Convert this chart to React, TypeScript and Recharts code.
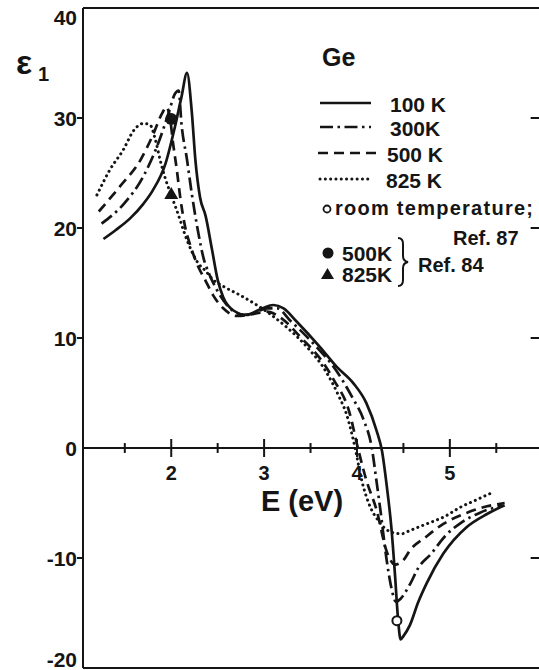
import React from "react";
import { ComposedChart, Line, Scatter, XAxis, YAxis, ReferenceLine } from "recharts";

const FONT = '"Liberation Sans", Arial, sans-serif';
const INK = "#151515";

// epsilon_1 of Ge versus photon energy, [E (eV), eps1]
const k100: [number, number][] = [
  [1.27, 19.0], [1.4, 19.8], [1.56, 20.9], [1.7, 22.2], [1.8, 23.4], [1.94, 25.9], [2.04, 29.2],
  [2.11, 31.9], [2.17, 34.1], [2.22, 30.7], [2.26, 26.2], [2.31, 22.8], [2.37, 21.1], [2.44, 18.0],
  [2.5, 15.3], [2.56, 13.7], [2.67, 12.5], [2.81, 12.1], [2.98, 12.7], [3.1, 13.0], [3.21, 12.7],
  [3.35, 11.5], [3.6, 9.2], [3.78, 7.4], [3.96, 5.9], [4.1, 4.1], [4.21, 1.6], [4.27, -0.3],
  [4.32, -3.4], [4.37, -7.2], [4.41, -11.6], [4.44, -15.3], [4.47, -17.4], [4.5, -17.1],
  [4.57, -16.1], [4.66, -14.0], [4.75, -12.3], [4.93, -9.6], [5.18, -7.2], [5.4, -6.0], [5.59, -5.2],
];
const k300: [number, number][] = [
  [1.25, 20.4], [1.49, 22.2], [1.7, 24.7], [1.86, 27.7], [1.97, 30.4], [2.04, 32.2], [2.08, 32.5],
  [2.11, 29.5], [2.17, 26.2], [2.22, 23.2], [2.28, 20.1], [2.35, 17.2], [2.41, 15.8], [2.49, 14.4],
  [2.6, 13.0], [2.78, 12.1], [2.9, 12.3], [3.03, 12.7], [3.14, 12.7], [3.28, 11.6], [3.53, 9.5],
  [3.78, 7.0], [3.95, 4.6], [4.07, 2.6], [4.16, 0.0], [4.21, -3.0], [4.25, -5.5], [4.32, -10.2],
  [4.37, -12.7], [4.42, -14.0], [4.47, -13.7], [4.57, -12.4], [4.66, -10.9], [4.8, -9.6],
  [4.95, -8.0], [5.12, -6.8], [5.32, -5.9], [5.57, -5.2],
];
const k500: [number, number][] = [
  [1.22, 21.5], [1.45, 23.8], [1.67, 26.2], [1.81, 28.6], [1.9, 30.4], [1.95, 31.0], [1.99, 29.8],
  [2.02, 27.7], [2.06, 25.3], [2.1, 22.6], [2.15, 20.1], [2.21, 18.3], [2.29, 16.5], [2.37, 15.2],
  [2.45, 13.9], [2.56, 12.7], [2.71, 12.0], [2.89, 12.2], [3.03, 12.4], [3.17, 11.9], [3.39, 10.1],
  [3.64, 7.7], [3.75, 6.2], [3.92, 3.2], [4.01, 0.0], [4.1, -2.9], [4.21, -5.6], [4.32, -9.4],
  [4.41, -10.6], [4.5, -10.2], [4.57, -9.3], [4.74, -8.1], [4.93, -6.9], [5.18, -5.9], [5.4, -5.3],
  [5.59, -5.0],
];
const k825: [number, number][] = [
  [1.2, 23.0], [1.34, 25.3], [1.49, 27.2], [1.59, 28.8], [1.7, 29.5], [1.77, 29.4], [1.83, 28.0],
  [1.88, 26.2], [1.94, 24.4], [1.99, 23.2], [2.06, 21.6], [2.17, 18.9], [2.29, 16.8], [2.37, 16.1],
  [2.45, 15.3], [2.56, 14.7], [2.74, 13.9], [2.92, 13.0], [3.06, 12.2], [3.24, 11.0], [3.46, 9.2],
  [3.67, 6.9], [3.8, 4.8], [3.89, 3.0], [3.98, 0.0], [4.05, -2.9], [4.14, -5.3], [4.23, -6.6],
  [4.3, -7.3], [4.39, -7.7], [4.48, -7.8], [4.57, -7.5], [4.75, -6.9], [4.95, -6.2], [5.11, -5.4],
  [5.29, -4.7], [5.47, -4.0],
];

// single measured points from other references
const ref84at500: [number, number][] = [[2.0, 29.9]];
const ref84at825: [number, number][] = [[2.0, 23.1]];
const ref87room: [number, number][] = [[4.43, -15.7]];

const X_MIN = 1.05;
const X_MAX = 5.96;
const Y_MIN = -20;
const Y_MAX = 40;
const Y_TICKS = [-20, -10, 0, 10, 20, 30, 40];
const X_MAJOR = [2, 3, 4, 5];
const X_MINOR = [1.5, 2.5, 3.5, 4.5, 5.5];
const RIGHT_TICKS = [30, 20, 10, -10];

const rows = (pts: [number, number][]) => pts.map(([e, eps]) => ({ e, eps }));

const SERIES = [
  { name: "100 K", data: rows(k100), dash: undefined as string | undefined, cap: "butt" as const, width: 2.7 },
  { name: "300K", data: rows(k300), dash: "13 4.5 2.5 4.5", cap: "butt" as const, width: 2.7 },
  { name: "500 K", data: rows(k500), dash: "10 6", cap: "butt" as const, width: 2.7 },
  { name: "825 K", data: rows(k825), dash: "0.1 5.2", cap: "round" as const, width: 3 },
];

const txt = { fill: INK, fontFamily: FONT, fontWeight: 700 };

function YTick({ x, y, payload }: any) {
  const v = payload.value;
  const shift = v === Y_MAX ? 9 : v === Y_MIN ? -9 : 0;
  const inner = v !== Y_MAX && v !== Y_MIN && v !== 0;
  return (
    <g>
      {inner && <line x1={x} x2={x + 6} y1={y} y2={y} stroke={INK} strokeWidth={2} />}
      <text x={x} y={y + shift} dy="0.36em" textAnchor="end" fontSize={21} {...txt}>
        {v}
      </text>
    </g>
  );
}

const FilledDot = ({ cx, cy }: any) => <circle cx={cx} cy={cy} r={6} fill={INK} />;
const OpenDot = ({ cx, cy }: any) => <circle cx={cx} cy={cy} r={4.5} fill="#fff" stroke={INK} strokeWidth={2} />;
const Tri = ({ cx, cy }: any) => (
  <path d={`M${cx},${cy - 7} L${cx + 7},${cy + 5} L${cx - 7},${cy + 5} Z`} fill={INK} />
);

export default function App() {
  return (
    <div style={{ position: "absolute", left: 0, top: 0, width: 539, height: 670, background: "#fff" }}>
      <ComposedChart width={539} height={670} margin={{ top: 8, right: 0, bottom: 2, left: 0 }}>
        <XAxis dataKey="e" type="number" domain={[X_MIN, X_MAX]} allowDataOverflow hide />
        <YAxis
          dataKey="eps"
          type="number"
          domain={[Y_MIN, Y_MAX]}
          ticks={Y_TICKS}
          interval={0}
          allowDataOverflow
          width={83}
          tickSize={6}
          tickMargin={0}
          tickLine={false}
          tick={<YTick />}
          axisLine={{ stroke: INK, strokeWidth: 2 }}
        />
        {/* frame top and bottom, plus the zero line carrying the E ticks */}
        <ReferenceLine y={Y_MAX} stroke={INK} strokeWidth={2} />
        <ReferenceLine y={Y_MIN} stroke={INK} strokeWidth={2} />
        <ReferenceLine y={0} stroke={INK} strokeWidth={2} />
        {X_MAJOR.map((v) => (
          <ReferenceLine
            key={`maj${v}`}
            segment={[{ x: v, y: -0.82 }, { x: v, y: 0.82 }]}
            stroke={INK}
            strokeWidth={2}
            label={{ value: String(v), position: "bottom", offset: 9, fontSize: 20, ...txt }}
          />
        ))}
        {X_MINOR.map((v) => (
          <ReferenceLine key={`min${v}`} segment={[{ x: v, y: -0.45 }, { x: v, y: 0.45 }]} stroke={INK} strokeWidth={2} />
        ))}
        {RIGHT_TICKS.map((v) => (
          <ReferenceLine key={`r${v}`} segment={[{ x: X_MAX - 0.09, y: v }, { x: X_MAX, y: v }]} stroke={INK} strokeWidth={2} />
        ))}
        {SERIES.map((s) => (
          <Line
            key={s.name}
            data={s.data}
            dataKey="eps"
            type="monotone"
            stroke={INK}
            strokeWidth={s.width}
            strokeDasharray={s.dash}
            strokeLinecap={s.cap}
            dot={false}
            activeDot={false}
            isAnimationActive={false}
          />
        ))}
        <Scatter data={rows(ref84at500)} shape={FilledDot} isAnimationActive={false} />
        <Scatter data={rows(ref84at825)} shape={Tri} isAnimationActive={false} />
        <Scatter data={rows(ref87room)} shape={OpenDot} isAnimationActive={false} />
      </ComposedChart>

      <svg width={539} height={670} style={{ position: "absolute", left: 0, top: 0, pointerEvents: "none" }}>
        <text x={16} y={74} fontSize={34} {...txt}>ε</text>
        <text x={38} y={81} fontSize={20} {...txt}>1</text>
        <text x={302} y={511} textAnchor="middle" fontSize={29} {...txt}>E (eV)</text>

        <text x={322} y={66} fontSize={25} {...txt}>Ge</text>
        {SERIES.map((s, i) => {
          const ly = [103, 127, 153, 179][i];
          const tx = [390, 390, 387, 386][i];
          return (
            <g key={s.name}>
              <line x1={i === 2 ? 318 : 320} x2={i === 2 ? 377 : 371} y1={ly} y2={ly} stroke={INK} strokeWidth={s.width} strokeDasharray={s.dash} strokeLinecap={s.cap} />
              <text x={tx} y={ly + 9} fontSize={21} {...txt}>{s.name}</text>
            </g>
          );
        })}
        <circle cx={327} cy={209} r={3.5} fill="none" stroke={INK} strokeWidth={1.8} />
        <text x={335} y={215} fontSize={20} textLength={198} lengthAdjust="spacing" {...txt}>room  temperature;</text>
        <text x={453} y={245} fontSize={20} {...txt}>Ref. 87</text>
        <circle cx={328} cy={253} r={5.5} fill={INK} />
        <text x={342} y={261} fontSize={21} {...txt}>500K</text>
        <path d="M327.5,268 L334,279 L321,279 Z" fill={INK} />
        <text x={342} y={282} fontSize={21} {...txt}>825K</text>
        <path d="M398,238 Q403,238 403,244 L403,256 Q403,261 408,262 Q403,263 403,268 L403,280 Q403,286 398,286" fill="none" stroke={INK} strokeWidth={2} />
        <text x={418} y={272} fontSize={20} {...txt}>Ref. 84</text>
      </svg>
    </div>
  );
}
